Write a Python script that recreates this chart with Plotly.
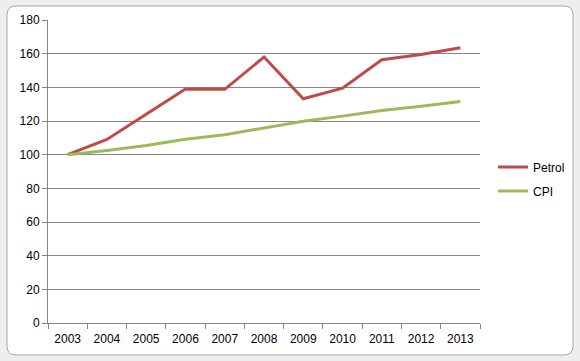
import plotly.graph_objects as go

years = ["2003", "2004", "2005", "2006", "2007", "2008", "2009", "2010", "2011", "2012", "2013"]
petrol = [100, 109, 124, 139, 138.8, 158, 133.2, 139.5, 156.4, 159.5, 163.5]
cpi = [100, 102.5, 105.5, 109.2, 111.9, 116, 119.8, 122.9, 126.3, 128.7, 131.6]
y_ticks = [0, 20, 40, 60, 80, 100, 120, 140, 160, 180]

FONT = "Liberation Sans"
GRID = "#868686"

fig = go.Figure()
fig.add_trace(go.Scatter(x=years, y=petrol, mode="lines", name="Petrol",
                         line=dict(color="#BE4B48", width=3), legendgroup="a"))
fig.add_trace(go.Scatter(x=years, y=cpi, mode="lines", name="CPI",
                         line=dict(color="#9BBB59", width=3), legendgroup="b"))

# chart-area frame (rounded white box on a light grey window border)
r = 9
x0, x1, yt, yb = -41, 525, 317, -32
path = (f"M{x0+r},{yt} L{x1-r},{yt} Q{x1},{yt} {x1},{yt-r} "
        f"L{x1},{yb+r} Q{x1},{yb} {x1-r},{yb} L{x0+r},{yb} "
        f"Q{x0},{yb} {x0},{yb+r} L{x0},{yt-r} Q{x0},{yt} {x0+r},{yt} Z")
fig.add_shape(type="path", path=path, xref="paper", yref="paper",
              xsizemode="pixel", ysizemode="pixel", xanchor=0, yanchor=0,
              fillcolor="white", line=dict(color="#A8A8A8", width=1), layer="below")

fig.update_layout(
    width=580, height=361,
    margin=dict(l=48, r=100, t=20, b=38, autoexpand=False),
    paper_bgcolor="#EEEEEE",
    plot_bgcolor="rgba(0,0,0,0)",
    font=dict(family=FONT, size=12, color="#000000"),
    showlegend=True,
    hovermode=False,
    legend=dict(x=1.030, y=0.563, xanchor="left", yanchor="top",
                bgcolor="rgba(0,0,0,0)", tracegroupgap=5,
                font=dict(family=FONT, size=12, color="#000000")),
    xaxis=dict(type="category", range=[-0.5, 10.5], tickson="boundaries",
               showgrid=False, showline=True, linecolor=GRID, linewidth=1,
               ticks="outside", ticklen=5, tickcolor=GRID, tickwidth=1,
               ticklabelstandoff=5,
               tickfont=dict(family=FONT, size=12), fixedrange=True),
    yaxis=dict(range=[0, 180], tickvals=y_ticks, showgrid=True, gridcolor=GRID,
               gridwidth=1, showline=True, linecolor=GRID, linewidth=1,
               zeroline=False, ticks="outside", ticklen=5, tickcolor=GRID,
               tickwidth=1, tickfont=dict(family=FONT, size=12), fixedrange=True),
)

fig.write_html("out.html", config={"displayModeBar": False, "staticPlot": True},
               post_script="document.body.style.margin='0px';document.body.style.overflow='hidden';")
